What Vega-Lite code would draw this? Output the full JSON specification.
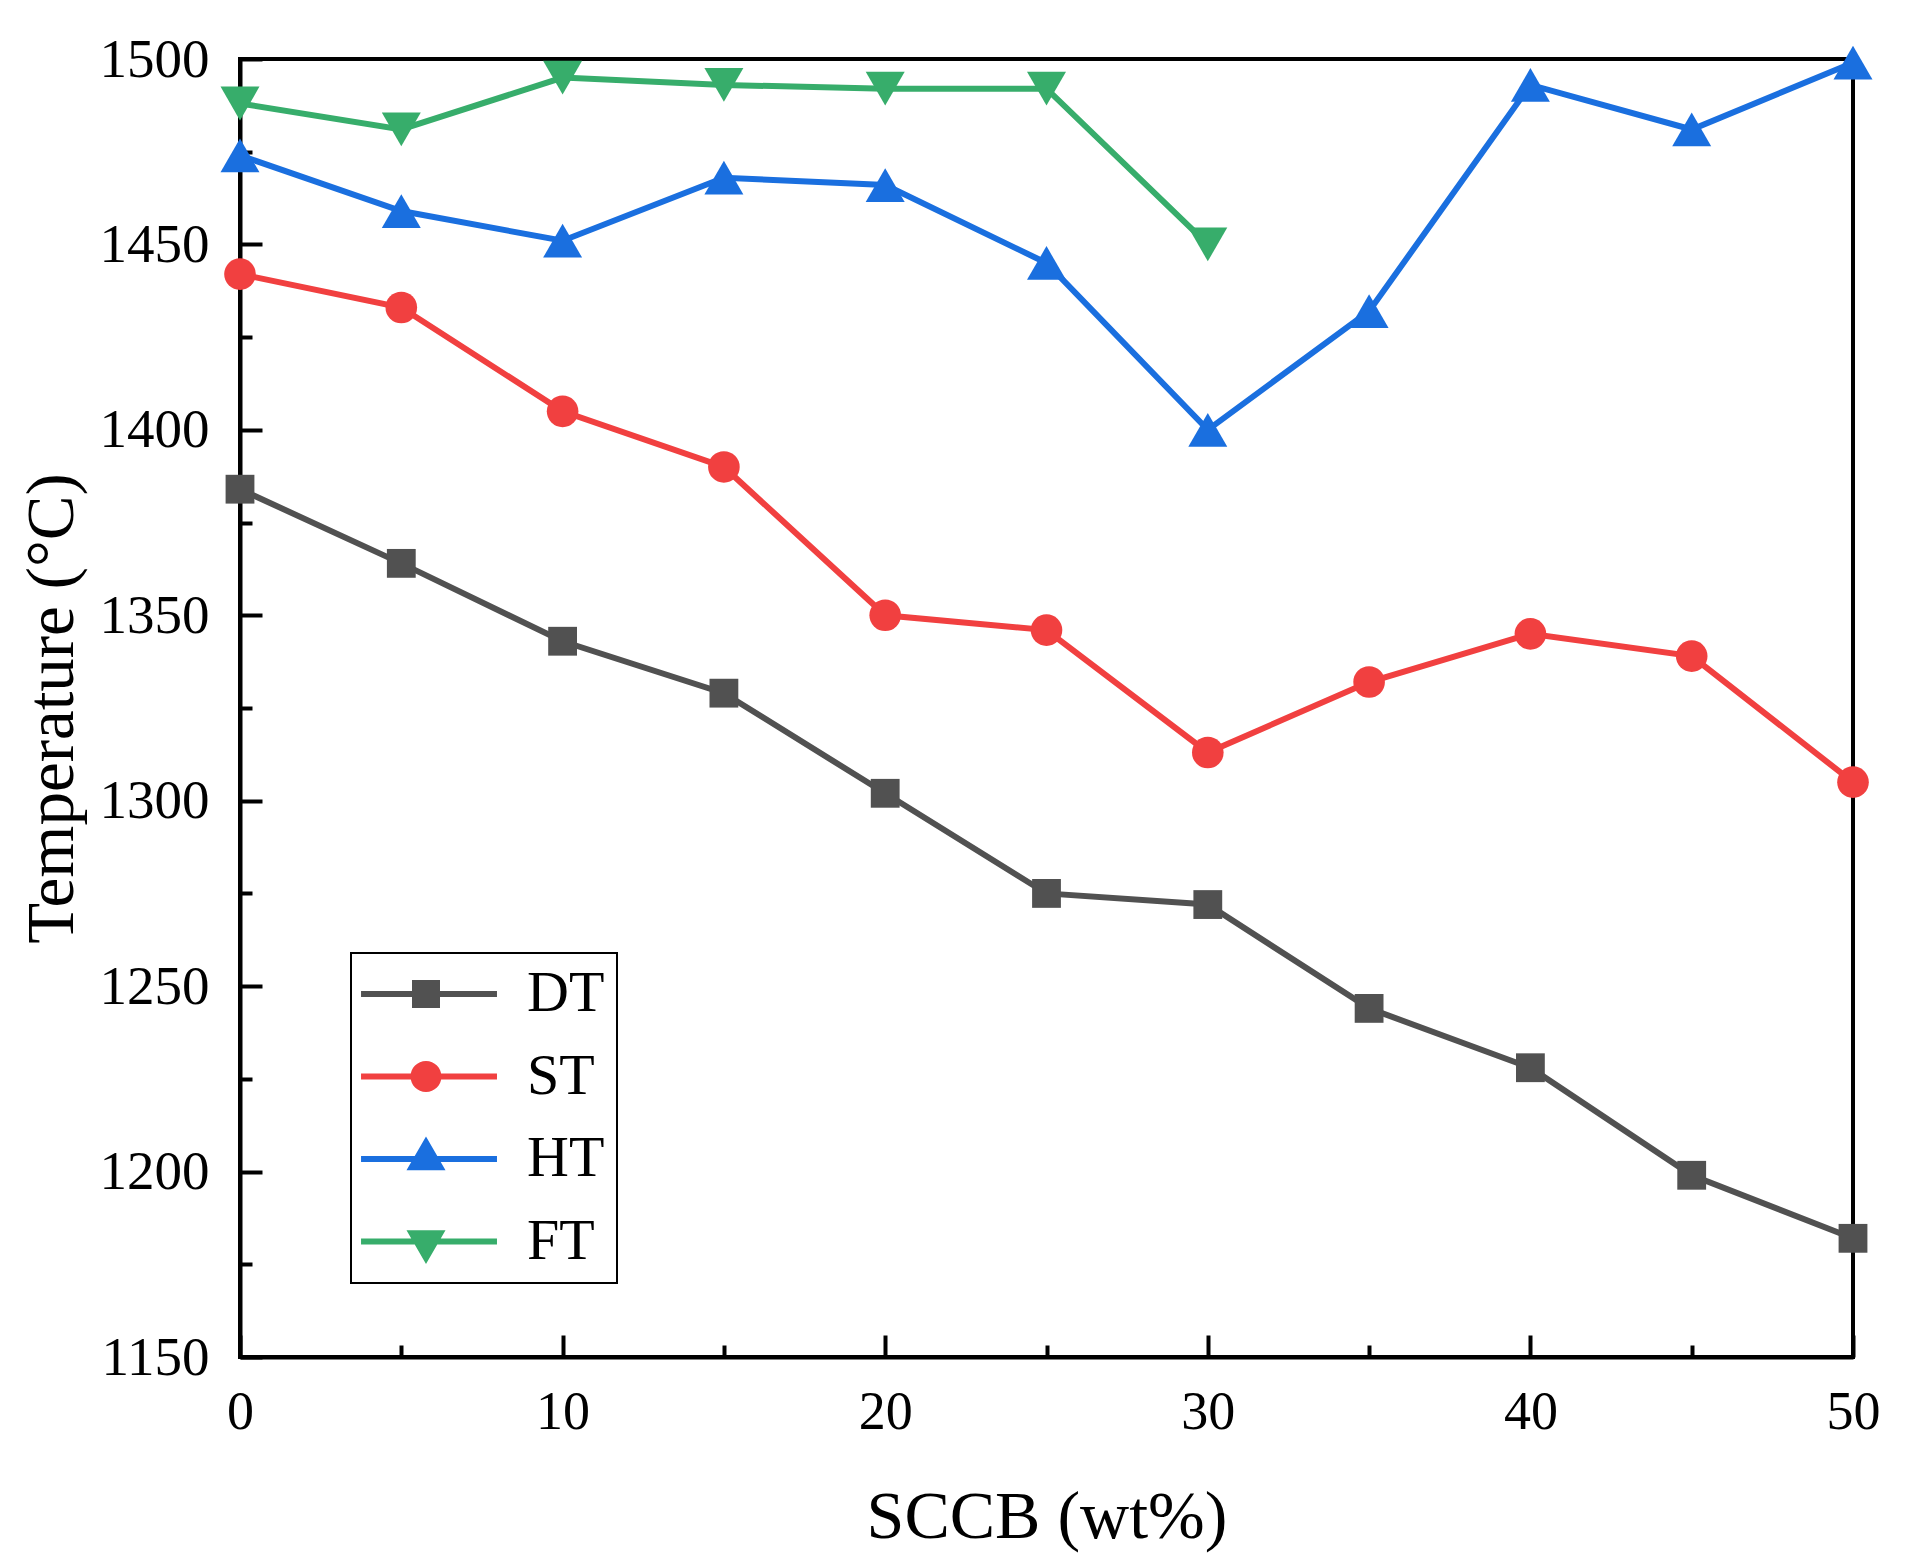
{
  "$schema": "https://vega.github.io/schema/vega-lite/v6.json",
  "autosize": "none",
  "padding": {"left": 240, "top": 59, "right": 60, "bottom": 200},
  "width": 1613,
  "height": 1298,
  "background": "white",
  "config": {
    "view": {"stroke": "black", "strokeWidth": 4},
    "font": "Liberation Serif",
    "legend": {"strokeWidth": 2}
  },
  "data": {
    "values": [
      {"x": 0, "T": 1384, "series": "DT"},
      {"x": 5, "T": 1364, "series": "DT"},
      {"x": 10, "T": 1343, "series": "DT"},
      {"x": 15, "T": 1329, "series": "DT"},
      {"x": 20, "T": 1302, "series": "DT"},
      {"x": 25, "T": 1275, "series": "DT"},
      {"x": 30, "T": 1272, "series": "DT"},
      {"x": 35, "T": 1244, "series": "DT"},
      {"x": 40, "T": 1228, "series": "DT"},
      {"x": 45, "T": 1199, "series": "DT"},
      {"x": 50, "T": 1182, "series": "DT"},
      {"x": 0, "T": 1442, "series": "ST"},
      {"x": 5, "T": 1433, "series": "ST"},
      {"x": 10, "T": 1405, "series": "ST"},
      {"x": 15, "T": 1390, "series": "ST"},
      {"x": 20, "T": 1350, "series": "ST"},
      {"x": 25, "T": 1346, "series": "ST"},
      {"x": 30, "T": 1313, "series": "ST"},
      {"x": 35, "T": 1332, "series": "ST"},
      {"x": 40, "T": 1345, "series": "ST"},
      {"x": 45, "T": 1339, "series": "ST"},
      {"x": 50, "T": 1305, "series": "ST"},
      {"x": 0, "T": 1474, "series": "HT"},
      {"x": 5, "T": 1459, "series": "HT"},
      {"x": 10, "T": 1451, "series": "HT"},
      {"x": 15, "T": 1468, "series": "HT"},
      {"x": 20, "T": 1466, "series": "HT"},
      {"x": 25, "T": 1445, "series": "HT"},
      {"x": 30, "T": 1400, "series": "HT"},
      {"x": 35, "T": 1432, "series": "HT"},
      {"x": 40, "T": 1493, "series": "HT"},
      {"x": 45, "T": 1481, "series": "HT"},
      {"x": 50, "T": 1499, "series": "HT"},
      {"x": 0, "T": 1488, "series": "FT"},
      {"x": 5, "T": 1481, "series": "FT"},
      {"x": 10, "T": 1495, "series": "FT"},
      {"x": 15, "T": 1493, "series": "FT"},
      {"x": 20, "T": 1492, "series": "FT"},
      {"x": 25, "T": 1492, "series": "FT"},
      {"x": 30, "T": 1450, "series": "FT"}
    ]
  },
  "resolve": {
    "axis": {"x": "independent", "y": "independent"},
    "scale": {"color": "independent", "shape": "independent"}
  },
  "layer": [
    {
      "mark": {"type": "line", "strokeWidth": 6},
      "encoding": {
        "x": {
          "field": "x", "type": "quantitative",
          "scale": {"domain": [0, 50], "nice": false, "zero": false},
          "axis": {
            "orient": "bottom",
            "values": [0, 10, 20, 30, 40, 50],
            "format": "d",
            "grid": false,
            "tickSize": -22, "tickWidth": 4, "tickColor": "black",
            "domainWidth": 4, "domainColor": "black",
            "labelFont": "Liberation Serif", "labelFontSize": 54, "labelColor": "black",
            "labelPadding": 50, "labelFlush": false, "labelOverlap": false,
            "title": "SCCB (wt%)",
            "titleFont": "Liberation Serif", "titleFontSize": 68, "titleFontWeight": "normal", "titleColor": "black",
            "titleX": 806.5, "titleY": 180, "titleBaseline": "alphabetic", "titleAlign": "center"
          }
        },
        "y": {
          "field": "T", "type": "quantitative",
          "scale": {"domain": [1150, 1500], "nice": false, "zero": false},
          "axis": {
            "orient": "left",
            "values": [1150, 1200, 1250, 1300, 1350, 1400, 1450, 1500],
            "format": "d",
            "grid": false,
            "tickSize": -22, "tickWidth": 4, "tickColor": "black",
            "domainWidth": 4, "domainColor": "black",
            "labelFont": "Liberation Serif", "labelFontSize": 55, "labelColor": "black",
            "labelPadding": 53, "labelFlush": false, "labelOverlap": false,
            "title": "Temperature (°C)",
            "titleFont": "Liberation Serif", "titleFontSize": 67, "titleFontWeight": "normal", "titleColor": "black",
            "titleX": -168, "titleY": 649, "titleAngle": -90, "titleBaseline": "alphabetic", "titleAlign": "center"
          }
        },
        "color": {
          "field": "series", "type": "nominal",
          "scale": {"domain": ["DT", "ST", "HT", "FT"], "range": ["#515151", "#F14040", "#1A6FDF", "#37AD6B"]},
          "legend": null
        },
        "detail": {"field": "series"}
      }
    },
    {
      "mark": {"type": "point", "filled": true, "opacity": 1, "strokeWidth": 0},
      "encoding": {
        "x": {"field": "x", "type": "quantitative", "axis": null},
        "y": {"field": "T", "type": "quantitative", "axis": null},
        "color": {
          "field": "series", "type": "nominal",
          "scale": {"domain": ["DT", "ST", "HT", "FT"], "range": ["#515151", "#F14040", "#1A6FDF", "#37AD6B"]},
          "legend": null
        },
        "shape": {
          "field": "series", "type": "nominal",
          "scale": {"domain": ["DT", "ST", "HT", "FT"], "range": ["square", "circle", "triangle-up", "triangle-down"]},
          "legend": null
        },
        "size": {
          "field": "series", "type": "nominal",
          "scale": {"type": "ordinal", "domain": ["DT", "ST", "HT", "FT"], "range": [830, 1000, 1520, 1520]},
          "legend": null
        }
      }
    },
    {
      "transform": [{"filter": "false"}],
      "mark": {"type": "point", "filled": true, "opacity": 1, "strokeWidth": 0},
      "encoding": {
        "x": {"field": "x", "type": "quantitative", "axis": null},
        "y": {"field": "T", "type": "quantitative", "axis": null},
        "color": {
          "field": "series", "type": "nominal",
          "scale": {"domain": ["DT", "ST", "HT", "FT"], "range": ["#515151", "#F14040", "#1A6FDF", "#37AD6B"]},
          "legend": {
            "title": null,
            "orient": "none",
            "legendX": 111,
            "legendY": 894,
            "strokeColor": "black",
            "fillColor": "white",
            "padding": 12,
            "rowPadding": 24.5,
            "symbolSize": 784,
            "symbolStrokeWidth": 0,
            "symbolOpacity": 1,
            "symbolOffset": 34,
            "labelOffset": 72,
            "labelFont": "Liberation Serif",
            "labelFontSize": 58,
            "labelColor": "black",
            "labelBaseline": "middle"
          }
        },
        "shape": {
          "field": "series", "type": "nominal",
          "scale": {
            "domain": ["DT", "ST", "HT", "FT"],
            "range": [
              "M-4.64,-0.214H5.07V0.214H-4.64Z M-1,-1H1V1H-1Z",
              "M-4.64,-0.214H5.07V0.214H-4.64Z M-1.107,0A1.107,1.107,0,1,1,1.107,0A1.107,1.107,0,1,1,-1.107,0Z",
              "M-4.64,-0.214H5.07V0.214H-4.64Z M0,-1.607L1.393,0.804L-1.393,0.804Z",
              "M-4.64,-0.214H5.07V0.214H-4.64Z M0,1.607L-1.393,-0.804L1.393,-0.804Z"
            ]
          },
          "legend": {
            "title": null,
            "orient": "none",
            "legendX": 111,
            "legendY": 894,
            "strokeColor": "black",
            "fillColor": "white",
            "padding": 12,
            "rowPadding": 24.5,
            "symbolSize": 784,
            "symbolStrokeWidth": 0,
            "symbolOpacity": 1,
            "symbolOffset": 34,
            "labelOffset": 72,
            "labelFont": "Liberation Serif",
            "labelFontSize": 58,
            "labelColor": "black",
            "labelBaseline": "middle"
          }
        }
      }
    },
    {
      "mark": {"type": "point", "opacity": 0},
      "encoding": {
        "x": {
          "field": "x", "type": "quantitative",
          "axis": {
            "orient": "bottom",
            "values": [5, 15, 25, 35, 45],
            "grid": false, "labels": false, "domain": false, "title": null,
            "tickSize": -12, "tickWidth": 4, "tickColor": "black"
          }
        },
        "y": {
          "field": "T", "type": "quantitative",
          "axis": {
            "orient": "left",
            "values": [1175, 1225, 1275, 1325, 1375, 1425, 1475],
            "grid": false, "labels": false, "domain": false, "title": null,
            "tickSize": -12, "tickWidth": 4, "tickColor": "black"
          }
        }
      }
    }
  ]
}
